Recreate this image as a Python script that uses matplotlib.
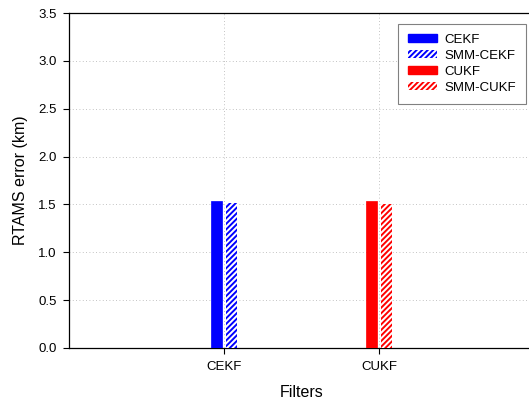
import numpy as np
import matplotlib.pyplot as plt
from matplotlib.patches import Patch

plt.rcParams['font.family'] = ['Liberation Sans', 'DejaVu Sans']
plt.rcParams['hatch.linewidth'] = 1.4

filters = ['CEKF', 'CUKF']
plain_err = [1.535, 1.535]   # CEKF, CUKF
smm_err = [1.52, 1.505]      # SMM-CEKF, SMM-CUKF
colors = ['#0000ff', '#ff0000']
hatch = '//////'

fig = plt.figure(figsize=(5.29, 4.07), dpi=100)
ax = fig.add_axes([69 / 529, 1 - 348 / 407, 465 / 529, 335 / 407])

x = np.arange(1, len(filters) + 1)
w = 0.072
off = 0.05
for i in range(len(filters)):
    ax.bar(x[i] - off, plain_err[i], w, color=colors[i], edgecolor=colors[i],
           linewidth=0.5, zorder=3)
    ax.bar(x[i] + off, smm_err[i], w, color='white', edgecolor=colors[i],
           hatch=hatch, linewidth=0, zorder=3)

ax.set_xlim(0, 3)
ax.set_ylim(0, 3.5)
ax.set_xticks(x)
ax.set_xticklabels(filters, fontsize=9.5)
ax.set_yticks(np.arange(0, 3.51, 0.5))
ax.set_yticklabels(['%.1f' % v for v in np.arange(0, 3.51, 0.5)], fontsize=9.5)
ax.tick_params(direction='out', length=4, width=0.8, pad=5)
ax.spines['right'].set_visible(False)
for s in ['left', 'bottom', 'top']:
    ax.spines[s].set_linewidth(0.9)

ax.grid(True, linestyle=(0, (1, 3)), color='#b0b0b0', linewidth=0.6, zorder=0)
ax.set_axisbelow(True)

ax.set_xlabel('Filters', fontsize=11.5, labelpad=9)
ax.set_ylabel('RTAMS error (km)', fontsize=11.5, labelpad=7)

handles = [
    Patch(facecolor=colors[0], edgecolor=colors[0], label='CEKF'),
    Patch(facecolor='white', edgecolor=colors[0], hatch=hatch, linewidth=0, label='SMM-CEKF'),
    Patch(facecolor=colors[1], edgecolor=colors[1], label='CUKF'),
    Patch(facecolor='white', edgecolor=colors[1], hatch=hatch, linewidth=0, label='SMM-CUKF'),
]
leg = ax.legend(handles=handles, loc='upper right', bbox_to_anchor=(526 / 529, 1 - 24 / 407),
                bbox_transform=fig.transFigure, fontsize=9.5, fancybox=False,
                edgecolor='#808080', framealpha=1, handlelength=2.2, handleheight=0.6,
                labelspacing=0.3, borderpad=0.75, handletextpad=0.6, borderaxespad=0)
leg.get_frame().set_linewidth(0.8)

fig.savefig('out.png', dpi=100)
